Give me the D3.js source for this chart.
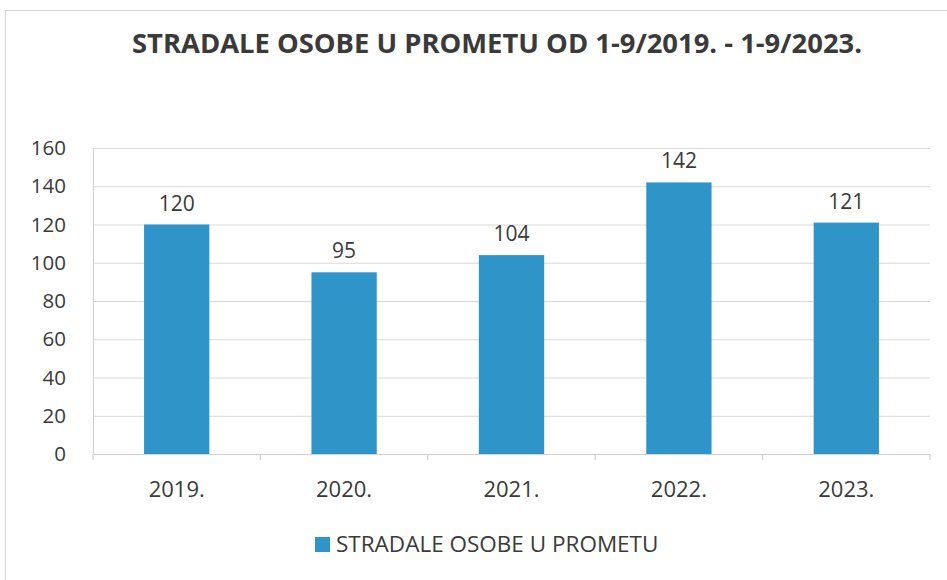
<!DOCTYPE html>
<html>
<head>
<meta charset="utf-8">
<script src="https://cdn.jsdelivr.net/npm/d3@7"></script>
<style>
  body { margin: 0; background: #fff; }
  text { font-family: "Open Sans", "Noto Sans", sans-serif; }
</style>
</head>
<body>
<svg id="chart"></svg>
<script>
var categories = ["2019.", "2020.", "2021.", "2022.", "2023."];
var values = [120, 95, 104, 142, 121];
var yTicks = [0, 20, 40, 60, 80, 100, 120, 140, 160];
var seriesName = "STRADALE OSOBE U PROMETU";
var title = "STRADALE OSOBE U PROMETU OD 1-9/2019. - 1-9/2023.";

var width = 947, height = 580;
var margin = {top: 148, right: 17, bottom: 126, left: 93};
var barColor = "#2f94c8";
var textColor = "#3a3a3a";

var svg = d3.select("#chart").attr("width", width).attr("height", height);

// outer chart border
svg.append("rect").attr("x", 5.5).attr("y", 10.5).attr("width", width - 4).attr("height", height)
  .attr("fill", "none").attr("stroke", "#d8d8d8");

svg.append("text").attr("x", 497).attr("y", 53).attr("text-anchor", "middle")
  .attr("font-size", 26.5).attr("font-weight", "bold").attr("fill", textColor)
  .attr("textLength", 730).attr("lengthAdjust", "spacingAndGlyphs")
  .text(title);

var x = d3.scaleBand().domain(categories)
  .range([margin.left, width - margin.right]).paddingInner(0.61).paddingOuter(0.305);
var y = d3.scaleLinear().domain([0, 160]).range([height - margin.bottom, margin.top]);

// gridlines
svg.append("g").selectAll("line").data(yTicks.slice(1)).enter().append("line")
  .attr("x1", margin.left).attr("x2", width - margin.right)
  .attr("y1", function(d){ return y(d) + 0.5; }).attr("y2", function(d){ return y(d) + 0.5; })
  .attr("stroke", "#d9d9d9").attr("stroke-width", 1.2);

// y axis
var yAxis = svg.append("g").attr("transform", "translate(" + margin.left + ",0)")
  .call(d3.axisLeft(y).tickValues(yTicks).tickSize(0).tickPadding(27));
yAxis.select(".domain").attr("stroke", "#d0d0d0");
yAxis.selectAll("text").attr("font-size", 20.5).attr("fill", textColor);

// bars
svg.append("g").selectAll("rect").data(values).enter().append("rect")
  .attr("x", function(d, i){ return x(categories[i]); })
  .attr("y", function(d){ return y(d); })
  .attr("width", x.bandwidth())
  .attr("height", function(d){ return y(0) - y(d); })
  .attr("fill", barColor);

// value labels
svg.append("g").selectAll("text").data(values).enter().append("text")
  .attr("x", function(d, i){ return x(categories[i]) + x.bandwidth() / 2; })
  .attr("y", function(d){ return y(d) - 14; })
  .attr("text-anchor", "middle").attr("font-size", 21).attr("fill", textColor)
  .text(function(d){ return d; });

// x axis with ticks at category boundaries
var step = x.step();
var boundaries = d3.range(categories.length + 1).map(function(i){ return margin.left + i * step; });
var xg = svg.append("g");
xg.append("line").attr("x1", margin.left).attr("x2", width - margin.right)
  .attr("y1", y(0) + 0.5).attr("y2", y(0) + 0.5).attr("stroke", "#d0d0d0").attr("stroke-width", 1.2);
xg.selectAll("line.tick").data(boundaries).enter().append("line").attr("class", "tick")
  .attr("x1", function(d){ return d; }).attr("x2", function(d){ return d; })
  .attr("y1", y(0)).attr("y2", y(0) + 6).attr("stroke", "#d0d0d0").attr("stroke-width", 1.2);
xg.selectAll("text").data(categories).enter().append("text")
  .attr("x", function(d){ return x(d) + x.bandwidth() / 2; })
  .attr("y", y(0) + 43).attr("text-anchor", "middle")
  .attr("font-size", 22).attr("fill", textColor).text(function(d){ return d; });

// legend
var lg = svg.append("g").attr("transform", "translate(315,537)");
lg.append("rect").attr("width", 15).attr("height", 15).attr("fill", barColor);
lg.append("text").attr("x", 21).attr("y", 15).attr("font-size", 22.5).attr("fill", textColor).text(seriesName);
</script>
</body>
</html>
